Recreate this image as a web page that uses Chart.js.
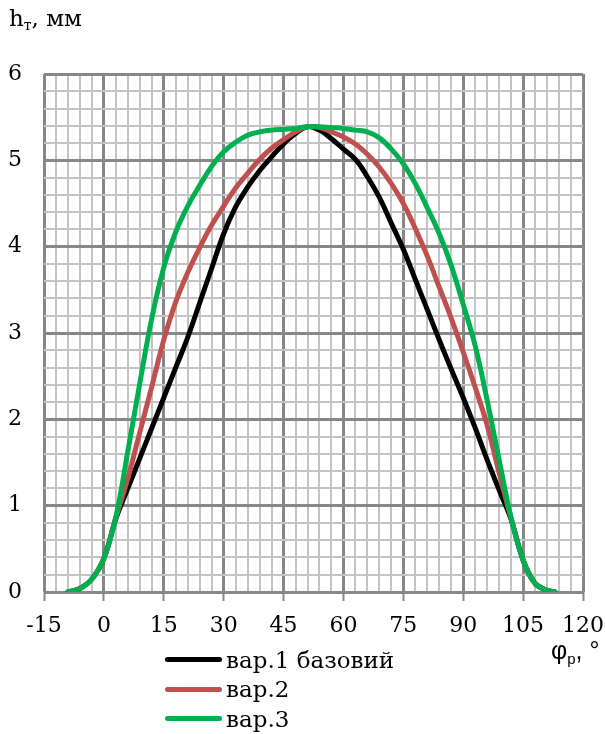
<!DOCTYPE html>
<html>
<head>
<meta charset="utf-8">
<script src="https://cdn.jsdelivr.net/npm/chart.js@4"></script>
<style>
  html, body { margin: 0; padding: 0; background: #fff; }
  #wrap { position: relative; width: 605px; height: 734px; }
  #chart { position: absolute; left: 0; top: 0; }
  .ytitle { position: absolute; left: 9px; top: 5px; font-family: "DejaVu Serif", serif; font-size: 23px; color: #000; white-space: nowrap; }
  .xtitle { position: absolute; left: 551px; top: 636px; font-family: "Liberation Sans", Arial, sans-serif; font-size: 25px; color: #000; white-space: nowrap; }
  .ytitle sub { font-size: 14px; vertical-align: -4px; }
  .xtitle sub { font-size: 15px; vertical-align: -5px; }
  #legend { position: absolute; left: 165px; top: 645px; font-family: "DejaVu Serif", serif; font-size: 23px; color: #000; }
  #legend .row { height: 29.5px; display: flex; align-items: center; white-space: nowrap; }
  #legend .swatch { width: 57px; height: 5px; border-radius: 3px; margin-right: 4px; }
</style>
</head>
<body>
<div id="wrap">
  <canvas id="chart" width="605" height="734"></canvas>
  <div class="ytitle">h<sub>т</sub>, мм</div>
  <div class="xtitle">φ<sub>р</sub>, °</div>
  <div id="legend"></div>
</div>
<script>
// angle, degrees
const angles = [-9, -6, -3, 0, 3, 6, 9, 12, 15, 18, 21, 24, 27, 30, 33, 36, 39, 42, 45, 48, 51,
                54, 57, 60, 63, 66, 69, 72, 75, 78, 81, 84, 87, 90, 93, 96, 99, 102, 105, 108, 111, 113];

// hт, mm
const var1 = [0, 0.04, 0.15, 0.39, 0.85, 1.20, 1.55, 1.90, 2.25, 2.60, 2.95, 3.35, 3.75, 4.15, 4.46, 4.69, 4.88, 5.04, 5.19, 5.31, 5.39,
              5.35, 5.25, 5.13, 5.01, 4.81, 4.57, 4.27, 3.97, 3.62, 3.27, 2.92, 2.58, 2.25, 1.90, 1.53, 1.18, 0.84, 0.37, 0.10, 0.02, 0];
const var2 = [0, 0.04, 0.15, 0.39, 0.86, 1.32, 1.85, 2.38, 2.92, 3.36, 3.70, 3.99, 4.25, 4.47, 4.68, 4.85, 5.01, 5.14, 5.24, 5.33, 5.39,
              5.38, 5.33, 5.27, 5.19, 5.07, 4.92, 4.73, 4.50, 4.21, 3.89, 3.53, 3.17, 2.78, 2.37, 1.93, 1.38, 0.85, 0.37, 0.10, 0.02, 0];
const var3 = [0, 0.04, 0.15, 0.39, 0.87, 1.63, 2.42, 3.17, 3.76, 4.17, 4.47, 4.71, 4.93, 5.10, 5.21, 5.29, 5.33, 5.35, 5.36, 5.37, 5.39,
              5.39, 5.38, 5.37, 5.35, 5.33, 5.26, 5.13, 4.96, 4.73, 4.45, 4.15, 3.78, 3.33, 2.85, 2.22, 1.53, 0.86, 0.37, 0.10, 0.02, 0];

const seriesNames = ['вар.1 базовий', 'вар.2', 'вар.3'];
const seriesColors = ['#000000', '#C0504D', '#00B050'];

const xMin = -15, xMax = 120, xStep = 3, xMajor = 15;
const yMin = 0, yMax = 6, yStep = 0.2, yMajor = 1;

const MAJOR = '#878787', MINOR = '#c3c3c3';

function isMajor(v, m) {
    const r = v / m;
    return Math.abs(r - Math.round(r)) < 1e-6;
}

const datasets = [var1, var2, var3].map((vals, i) => ({
    label: seriesNames[i],
    data: angles.map((a, j) => ({ x: a, y: vals[j] })),
    borderColor: seriesColors[i],
    backgroundColor: seriesColors[i],
    borderWidth: 5,
    pointRadius: 0,
    fill: false,
    tension: 0.4,
    borderCapStyle: 'round',
    borderJoinStyle: 'round',
    order: 2 - i
}));

new Chart(document.getElementById('chart'), {
    type: 'line',
    data: { datasets: datasets },
    options: {
        responsive: false,
        animation: false,
        events: [],
        layout: { padding: { top: 74, right: 22, left: 0, bottom: 0 } },
        plugins: { legend: { display: false }, tooltip: { enabled: false } },
        scales: {
            x: {
                type: 'linear',
                min: xMin,
                max: xMax,
                afterFit: function(scale) {
                    scale.height = 734 - 592;
                    scale.paddingLeft = 0;
                    scale.paddingRight = 0;
                },
                ticks: {
                    stepSize: xStep,
                    autoSkip: false,
                    maxRotation: 0,
                    padding: 12,
                    color: '#000',
                    font: { family: 'DejaVu Serif', size: 22 },
                    callback: function(v) { return isMajor(v, xMajor) ? String(Math.round(v)) : ''; }
                },
                grid: {
                    color: ctx => isMajor(ctx.tick.value, xMajor) ? MAJOR : MINOR,
                    lineWidth: ctx => isMajor(ctx.tick.value, xMajor) ? 3 : 2,
                    tickColor: ctx => isMajor(ctx.tick.value, xMajor) ? MAJOR : 'rgba(0,0,0,0)',
                    tickWidth: 2,
                    tickLength: 9
                },
                border: { display: false }
            },
            y: {
                type: 'linear',
                min: yMin,
                max: yMax,
                afterFit: function(scale) { scale.width = 44; },
                ticks: {
                    stepSize: yStep,
                    autoSkip: false,
                    padding: 22,
                    color: '#000',
                    font: { family: 'DejaVu Serif', size: 22 },
                    callback: function(v) { return isMajor(v, yMajor) ? String(Math.round(v)) : ''; }
                },
                grid: {
                    color: ctx => isMajor(ctx.tick.value, yMajor) ? MAJOR : MINOR,
                    lineWidth: ctx => isMajor(ctx.tick.value, yMajor) ? 3 : 2,
                    drawTicks: false
                },
                border: { display: false }
            }
        }
    }
});

// legend, one row per series
const legend = document.getElementById('legend');
seriesNames.forEach((name, i) => {
    const row = document.createElement('div');
    row.className = 'row';
    const sw = document.createElement('span');
    sw.className = 'swatch';
    sw.style.background = seriesColors[i];
    const txt = document.createElement('span');
    txt.textContent = name;
    row.appendChild(sw);
    row.appendChild(txt);
    legend.appendChild(row);
});
</script>
</body>
</html>
